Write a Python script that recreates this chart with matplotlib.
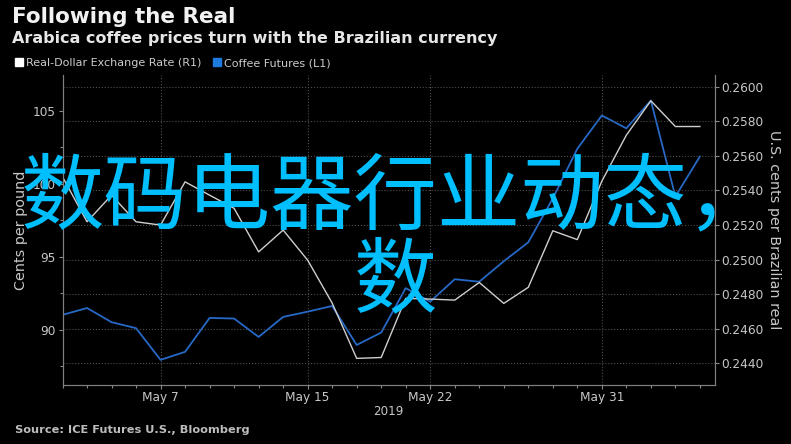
import numpy as np
import matplotlib.pyplot as plt
from matplotlib.lines import Line2D
from matplotlib.ticker import FormatStrFormatter

# trading days shown on the x axis (weekends skipped)
dates = ['May 1', 'May 2', 'May 3', 'May 6', 'May 7', 'May 8', 'May 9', 'May 10',
         'May 13', 'May 14', 'May 15', 'May 16', 'May 17', 'May 20', 'May 21',
         'May 22', 'May 23', 'May 24', 'May 27', 'May 28', 'May 29', 'May 30',
         'May 31', 'Jun 3', 'Jun 4', 'Jun 5', 'Jun 6']

# coffee futures, cents per pound (left axis)
coffee = [91.03, 91.50, 90.53, 90.12, 87.95, 88.50, 90.82, 90.78, 89.52, 90.89,
          91.25, 91.64, 88.97, 89.82, 92.86, 91.94, 93.47, 93.30, 94.70, 96.00,
          99.00, 102.40, 104.68, 103.80, 105.70, 99.13, 101.87]

# real-dollar rate, US cents per real (right axis)
real = [0.25479, 0.25219, 0.25373, 0.25219, 0.25200, 0.25450, 0.25373, 0.25297,
        0.25045, 0.25171, 0.24997, 0.24749, 0.24429, 0.24434, 0.24776, 0.24772,
        0.24766, 0.24868, 0.24747, 0.24840, 0.25167, 0.25116, 0.25454, 0.25720,
        0.25919, 0.25770, 0.25770]

tick_dates = ['May 7', 'May 15', 'May 22', 'May 31']
left_ticks = [90, 95, 100, 105]
left_minor = [87.5, 92.5, 97.5, 102.5]
right_ticks = [0.2440, 0.2460, 0.2480, 0.2500, 0.2520, 0.2540, 0.2560, 0.2580, 0.2600]

plt.rcParams['font.family'] = ['DejaVu Sans']

W, H = 791, 444
fig = plt.figure(figsize=(W / 100, H / 100), dpi=100, facecolor='black')
ax = fig.add_axes([62.5 / W, 1 - 385 / H, (714.6 - 62.5) / W, (385 - 75) / H])
ax.set_facecolor('black')
ax2 = ax.twinx()

x = np.arange(len(dates))
ax.plot(x, coffee, color='#2669c6', lw=1.3)
ax2.plot(x, real, color='#cfcfcf', lw=1.0)

ax.set_xlim(0, 26.6)
ax.set_ylim(86.23, 107.45)
ax2.set_ylim(0.24275, 0.26068)

ax.set_yticks(left_ticks)
ax.set_yticks(left_minor, minor=True)
ax2.set_yticks(right_ticks)
ax2.yaxis.set_major_formatter(FormatStrFormatter('%.4f'))
ax.set_xticks([dates.index(d) for d in tick_dates])
ax.set_xticklabels(tick_dates)
ax.set_xticks(x, minor=True)

ax.grid(axis='x', ls=':', color='#4f4f4f', lw=0.8)
ax2.grid(axis='y', ls=':', color='#4f4f4f', lw=0.8)

for a in (ax, ax2):
    for s in a.spines.values():
        s.set_color('#808080')
        s.set_linewidth(0.8)
    a.spines['top'].set_visible(False)
    a.tick_params(which='major', colors='#8a8a8a', labelcolor='#c8c8c8',
                  length=3, width=0.8, labelsize=8.7, pad=2)
    a.tick_params(which='minor', colors='#8a8a8a', length=2, width=0.8)
ax.tick_params(axis='x', which='major', pad=1)

ax.set_xlabel('2019', color='#c8c8c8', fontsize=8.6, va='center')
ax.xaxis.set_label_coords(0.5, (385 - 411.7) / 310)
ax.set_ylabel('Cents per pound', color='#c8c8c8', fontsize=10.4, va='center')
ax.yaxis.set_label_coords((21 - 62.5) / 652.1, 0.5)
ax2.set_ylabel('U.S. cents per Brazilian real', color='#c8c8c8', fontsize=10.4,
               rotation=270, va='center')
ax2.yaxis.set_label_coords((774 - 62.5) / 652.1, 0.5)

fig.text(12 / W, 1 - 22.7 / H, 'Following the Real', color='#f2f2f2',
         fontsize=15.5, weight='bold', va='baseline')
fig.text(12 / W, 1 - 43.3 / H, 'Arabica coffee prices turn with the Brazilian currency',
         color='#e6e6e6', fontsize=11.5, weight='bold', va='baseline')

handles = [Line2D([], [], marker='s', ls='', color='white', markersize=5.5),
           Line2D([], [], marker='s', ls='', color='#1f7ae0', markersize=5.5)]
fig.legend(handles, ['Real-Dollar Exchange Rate (R1)', 'Coffee Futures (L1)'],
           loc='upper left', bbox_to_anchor=(15 / W, 1 - 58 / H), ncol=2,
           frameon=False, fontsize=8.0, labelcolor='#cccccc', handlelength=0.7,
           handletextpad=0.25, columnspacing=1.1, borderaxespad=0, borderpad=0)

fig.text(15 / W, 1 - 432.7 / H, 'Source: ICE Futures U.S., Bloomberg',
         color='#bdbdbd', fontsize=8.2, weight='bold', va='baseline')

# big cyan overlay text
cjk = ['Noto Sans CJK SC', 'DejaVu Sans']
fig.text(0.5, 0.5, '数码电器行业动态，', color='#00bfff', fontsize=60,
         family=cjk, ha='center', va='baseline')
fig.text(0.5, 1 - 305.7 / H, '数', color='#00bfff', fontsize=60,
         family=cjk, ha='center', va='baseline')

fig.savefig('out.png', dpi=100, facecolor='black')
